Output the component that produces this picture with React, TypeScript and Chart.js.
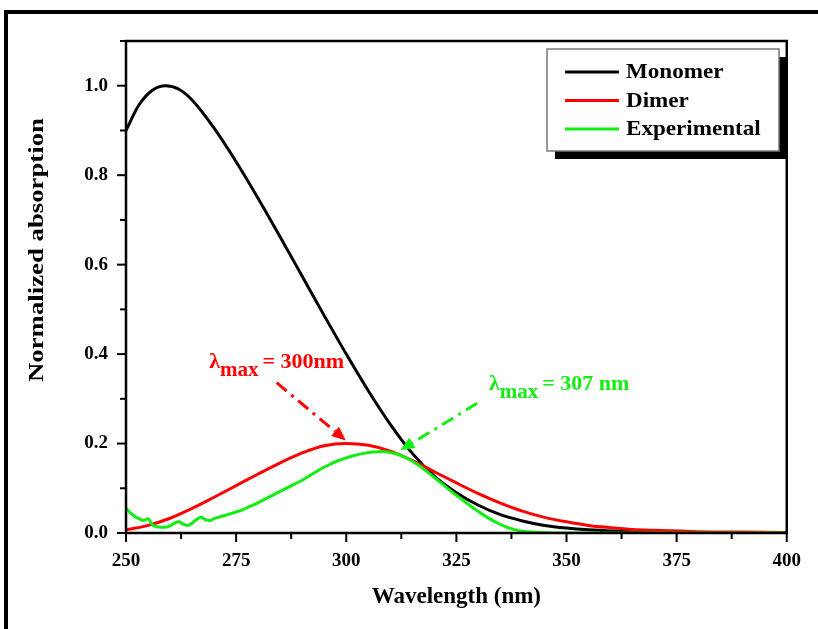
import React, { useEffect, useRef } from "react";
import { Chart, registerables } from "chart.js";

Chart.register(...registerables);

// ---- Data ----
const monomerX = [250, 253, 256, 259, 262, 265, 270, 275, 280, 285, 290, 295, 300, 305, 310, 315, 320, 325, 330, 335, 340, 345, 350, 355, 360, 370, 380, 400];
const monomerY = [0.90, 0.958, 0.99, 1.0, 0.992, 0.968, 0.905, 0.83, 0.748, 0.662, 0.574, 0.486, 0.400, 0.318, 0.243, 0.178, 0.127, 0.09, 0.062, 0.041, 0.027, 0.017, 0.011, 0.007, 0.0045, 0.002, 0.001, 0.0];

const dimerX = [250, 255, 260, 265, 270, 275, 280, 285, 290, 295, 300, 305, 310, 315, 320, 325, 330, 335, 340, 345, 350, 355, 360, 365, 370, 380, 390, 400];
const dimerY = [0.007, 0.017, 0.033, 0.055, 0.08, 0.106, 0.132, 0.157, 0.179, 0.195, 0.2, 0.196, 0.183, 0.162, 0.137, 0.112, 0.088, 0.067, 0.049, 0.035, 0.025, 0.017, 0.012, 0.008, 0.006, 0.003, 0.002, 0.001];

const expX = [250, 251, 252, 253, 254, 255, 256, 257, 258, 259, 260, 261, 262, 263, 264, 265, 266, 267, 268, 269, 270, 272, 274, 276, 278, 280, 282, 284, 286, 288, 290, 292, 294, 296, 298, 300, 302, 304, 306, 308, 310, 312, 314, 316, 318, 320, 322, 324, 326, 328, 330, 332, 334, 336, 338, 340, 342, 345, 350, 400];
const expY = [0.056, 0.045, 0.037, 0.032, 0.028, 0.032, 0.018, 0.014, 0.013, 0.013, 0.016, 0.022, 0.025, 0.02, 0.017, 0.022, 0.03, 0.035, 0.03, 0.028, 0.032, 0.038, 0.044, 0.05, 0.059, 0.068, 0.078, 0.088, 0.098, 0.108, 0.118, 0.13, 0.142, 0.152, 0.161, 0.168, 0.174, 0.178, 0.181, 0.182, 0.18, 0.175, 0.166, 0.154, 0.14, 0.124, 0.108, 0.092, 0.077, 0.062, 0.048, 0.035, 0.024, 0.015, 0.008, 0.004, 0.002, 0.001, 0.0, 0.0];

const seriesNames = ["Monomer", "Dimer", "Experimental"];
const seriesColors = ["#000000", "#ff0000", "#11ee11"];

const xTitle = "Wavelength (nm)";
const yTitle = "Normalized absorption";

const dimerPeakLabel = "= 300nm";
const expPeakLabel = "= 307 nm";

const FONT = '"Liberation Serif", "Times New Roman", serif';

function toPts(xs: number[], ys: number[]) {
  return xs.map((x, i) => ({ x, y: ys[i] }));
}

function stretchText(ctx: CanvasRenderingContext2D, text: string, x: number, y: number, sx: number) {
  ctx.save();
  ctx.translate(x, y);
  ctx.scale(sx, 1);
  ctx.fillText(text, 0, 0);
  ctx.restore();
}

const decorPlugin = {
  id: "decor",
  afterDatasetsDraw(chart: any) {
    const ctx = chart.ctx as CanvasRenderingContext2D;
    const { left, right, top, bottom } = chart.chartArea;
    const xs = chart.scales.x;
    const ys = chart.scales.y;
    ctx.save();

    // outer frame
    ctx.strokeStyle = "#000";
    ctx.lineWidth = 4;
    ctx.strokeRect(6, 12, 1000, 1000);

    // plot box
    ctx.lineWidth = 2.5;
    ctx.strokeRect(left, top, right - left, bottom - top);

    // ticks
    ctx.lineWidth = 2;
    const xt = xs.ticks.map((t: any) => t.value);
    xt.forEach((v: number, i: number) => {
      const px = xs.getPixelForValue(v);
      ctx.beginPath();
      ctx.moveTo(px, bottom);
      ctx.lineTo(px, bottom + 9);
      ctx.stroke();
      if (i < xt.length - 1) {
        const m = xs.getPixelForValue((v + xt[i + 1]) / 2);
        ctx.beginPath();
        ctx.moveTo(m, bottom);
        ctx.lineTo(m, bottom + 6);
        ctx.stroke();
      }
    });
    const yt = ys.ticks.map((t: any) => t.value);
    yt.forEach((v: number, i: number) => {
      const py = ys.getPixelForValue(v);
      ctx.beginPath();
      ctx.moveTo(left, py);
      ctx.lineTo(left - 9, py);
      ctx.stroke();
      const nv = i < yt.length - 1 ? (v + yt[i + 1]) / 2 : v + (v - yt[i - 1]) / 2;
      if (nv <= ys.max) {
        const m = ys.getPixelForValue(nv);
        ctx.beginPath();
        ctx.moveTo(left, m);
        ctx.lineTo(left - 6, m);
        ctx.stroke();
      }
    });

    // axis titles
    ctx.fillStyle = "#000";
    ctx.font = `bold 23px ${FONT}`;
    ctx.textAlign = "center";
    ctx.textBaseline = "middle";
    ctx.fillText(xTitle, (left + right) / 2, bottom + 64);
    ctx.save();
    ctx.translate(38, top + 209);
    ctx.rotate(-Math.PI / 2);
    ctx.font = `bold 21px ${FONT}`;
    const tw = ctx.measureText(yTitle).width;
    ctx.scale(264 / tw, 1);
    ctx.fillText(yTitle, 0, 0);
    ctx.restore();

    // annotations
    const lam = (txt: string, xv: number, yv: number, color: string) => {
      const x = xs.getPixelForValue(xv);
      const y = ys.getPixelForValue(yv);
      ctx.fillStyle = color;
      ctx.textAlign = "left";
      ctx.textBaseline = "alphabetic";
      ctx.font = `bold 22px ${FONT}`;
      ctx.fillText("λ", x, y);
      let w = ctx.measureText("λ").width;
      ctx.font = `bold 21px ${FONT}`;
      ctx.fillText("max", x + w, y + 8);
      w += ctx.measureText("max").width + 4;
      ctx.font = `bold 22px ${FONT}`;
      ctx.fillText(txt, x + w, y);
    };
    const arrow = (x1v: number, y1v: number, x2v: number, y2v: number, color: string) => {
      const x1 = xs.getPixelForValue(x1v), y1 = ys.getPixelForValue(y1v);
      const x2 = xs.getPixelForValue(x2v), y2 = ys.getPixelForValue(y2v);
      const ang = Math.atan2(y2 - y1, x2 - x1);
      const hl = 14, hw = 6;
      const bx = x2 - hl * Math.cos(ang), by = y2 - hl * Math.sin(ang);
      ctx.strokeStyle = color;
      ctx.fillStyle = color;
      ctx.lineWidth = 3;
      ctx.setLineDash([13, 6, 3, 6]);
      ctx.beginPath();
      ctx.moveTo(x1, y1);
      ctx.lineTo(bx, by);
      ctx.stroke();
      ctx.setLineDash([]);
      ctx.beginPath();
      ctx.moveTo(x2, y2);
      ctx.lineTo(bx + hw * Math.sin(ang), by - hw * Math.cos(ang));
      ctx.lineTo(bx - hw * Math.sin(ang), by + hw * Math.cos(ang));
      ctx.closePath();
      ctx.fill();
    };
    lam(dimerPeakLabel, 268.9, 0.369, seriesColors[1]);
    arrow(284.2, 0.336, 299.9, 0.207, seriesColors[1]);
    lam(expPeakLabel, 332.4, 0.32, seriesColors[2]);
    arrow(329.7, 0.29, 312.3, 0.185, seriesColors[2]);

    // legend
    const lx = 547, ly = 49, lw = 232, lh = 102;
    ctx.fillStyle = "#000";
    ctx.fillRect(lx + 8, ly + 8, lw, lh);
    ctx.fillStyle = "#fff";
    ctx.fillRect(lx, ly, lw, lh);
    ctx.strokeStyle = "#777";
    ctx.lineWidth = 1.5;
    ctx.strokeRect(lx, ly, lw, lh);
    seriesNames.forEach((name, i) => {
      const cy = 72 + i * 28.5;
      ctx.strokeStyle = seriesColors[i];
      ctx.lineWidth = 3;
      ctx.beginPath();
      ctx.moveTo(565, cy);
      ctx.lineTo(619, cy);
      ctx.stroke();
      ctx.fillStyle = "#000";
      ctx.font = `bold 21px ${FONT}`;
      ctx.textAlign = "left";
      ctx.textBaseline = "middle";
      stretchText(ctx, name, 626, cy + 1, 1.1);
    });

    ctx.restore();
  },
};

export default function App() {
  const ref = useRef<HTMLCanvasElement | null>(null);
  useEffect(() => {
    if (!ref.current) return;
    const mk = (i: number, xs: number[], ys: number[], order: number) => ({
      label: seriesNames[i],
      data: toPts(xs, ys),
      borderColor: seriesColors[i],
      backgroundColor: seriesColors[i],
      borderWidth: 3,
      pointRadius: 0,
      cubicInterpolationMode: "monotone" as const,
      order,
    });
    const chart = new Chart(ref.current, {
      type: "line",
      data: {
        datasets: [
          mk(0, monomerX, monomerY, 2),
          mk(1, dimerX, dimerY, 1),
          mk(2, expX, expY, 0),
        ],
      },
      options: {
        animation: false,
        responsive: false,
        devicePixelRatio: 1,
        layout: { padding: { left: 0, top: 41, right: 26, bottom: 0 } },
        plugins: { legend: { display: false }, tooltip: { enabled: false } },
        scales: {
          x: {
            type: "linear",
            min: 250,
            max: 400,
            grid: { display: false, drawTicks: false },
            border: { display: false },
            ticks: {
              stepSize: 25,
              padding: 17,
              color: "#000",
              font: { family: FONT, weight: "bold", size: 19 },
              maxRotation: 0,
            },
            afterFit: (s: any) => { s.height = 96; },
          },
          y: {
            type: "linear",
            min: 0,
            max: 1.1,
            grid: { display: false, drawTicks: false },
            border: { display: false },
            ticks: {
              stepSize: 0.2,
              includeBounds: false,
              padding: 18,
              color: "#000",
              font: { family: FONT, weight: "bold", size: 19 },
              callback: (v: any) => Number(v).toFixed(1),
            },
            afterFit: (s: any) => { s.width = 126; },
          },
        },
      },
      plugins: [decorPlugin],
    });
    return () => chart.destroy();
  }, []);
  return (
    <div style={{ position: "fixed", left: 0, top: 0, width: 818, height: 629, background: "#fff" }}>
      <canvas ref={ref} width={818} height={629} style={{ width: 818, height: 629 }} />
    </div>
  );
}
